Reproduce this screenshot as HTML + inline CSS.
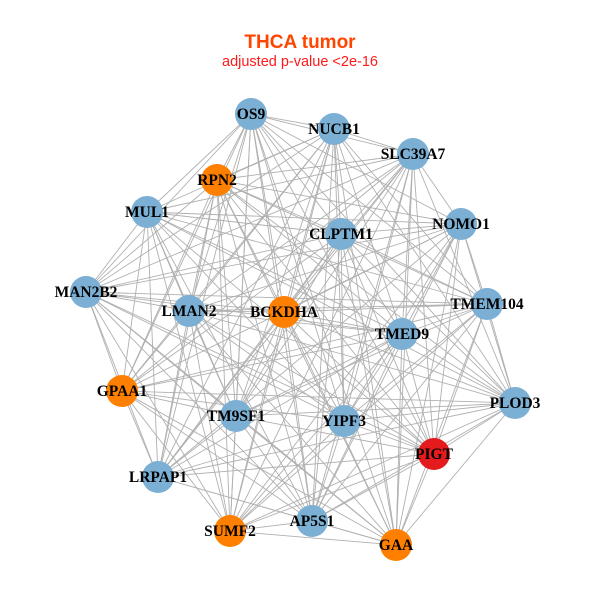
<!DOCTYPE html>
<html><head><meta charset="utf-8"><style>
html,body{margin:0;padding:0;background:#fff;width:600px;height:600px;overflow:hidden}
</style></head><body>
<svg id="s" width="600" height="600" xmlns="http://www.w3.org/2000/svg">
<text x="300" y="48" text-anchor="middle" font-family="Liberation Sans, sans-serif" font-weight="bold" font-size="19" fill="#ff4500">THCA tumor</text>
<text x="300" y="66" text-anchor="middle" font-family="Liberation Sans, sans-serif" font-size="14.5" fill="#ff1a1a">adjusted p-value &lt;2e-16</text>
<g id="e" stroke="#b0b0b0" stroke-width="0.9"></g>
<g id="n"></g>
<g id="t" font-family="Liberation Serif, serif" font-weight="bold" font-size="15.5" text-anchor="middle" fill="#000"></g>
</svg>
<script>
var N=[["OS9",251,114,"b"],["NUCB1",334,129,"b"],["SLC39A7",413,154,"b"],["RPN2",217,180,"o"],["MUL1",147,212,"b"],["NOMO1",461,224,"b"],["CLPTM1",341,234,"b"],["MAN2B2",86,292,"b"],["LMAN2",189,311,"b"],["BCKDHA",284,312,"o"],["TMEM104",487,304,"b"],["TMED9",402,334,"b"],["GPAA1",122,391,"o"],["PLOD3",515,403,"b"],["TM9SF1",236,416,"b"],["YIPF3",344,421,"b"],["PIGT",434,454,"r"],["LRPAP1",158,477,"b"],["AP5S1",312,521,"b"],["SUMF2",230,531,"o"],["GAA",396,545,"o"]];
var C={b:"#7bafd4",o:"#ff7f00",r:"#e41a1c"};
var ns="http://www.w3.org/2000/svg",e=document.getElementById("e"),n=document.getElementById("n"),t=document.getElementById("t");
for(var i=0;i<N.length;i++)for(var j=i+1;j<N.length;j++){
 if(((i*7+j*3)%11)==0)continue;
 var l=document.createElementNS(ns,"line");l.setAttribute("x1",N[i][1]);l.setAttribute("y1",N[i][2]);l.setAttribute("x2",N[j][1]);l.setAttribute("y2",N[j][2]);e.appendChild(l);}
N.forEach(function(d){var c=document.createElementNS(ns,"circle");c.setAttribute("cx",d[1]);c.setAttribute("cy",d[2]);c.setAttribute("r",16);c.setAttribute("fill",C[d[3]]);n.appendChild(c);
var x=document.createElementNS(ns,"text");x.setAttribute("x",d[1]);x.setAttribute("y",d[2]+5);x.textContent=d[0];t.appendChild(x);});
</script>
</body></html>
